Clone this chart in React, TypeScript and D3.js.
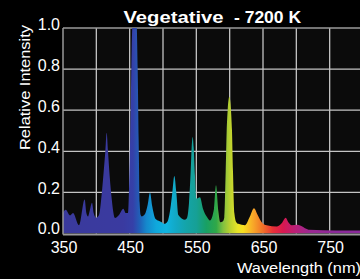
import * as d3 from "d3";
import { useEffect, useRef } from "react";

// spectrum (nm, relative intensity)
const wavelengths = [
  350, 354, 360.5, 365, 374, 382.5, 385, 387.5, 390, 393.5, 396, 399.5, 404, 408,
  411, 413.5, 415.5, 417.5, 420, 423, 428, 434, 440.5, 444, 447.5, 450, 451.5, 453,
  455, 460, 462, 463.5, 465, 466.5, 468, 473, 477, 480.5, 484, 489, 498, 502, 507,
  511, 514, 517, 520, 523, 533, 536, 539, 541.5, 543, 544.5, 546, 548, 550,
  555.5, 560, 566, 570.5, 576.5, 579.5, 583, 586, 590, 592, 594, 595.5, 597,
  599.5, 602, 603.5, 605, 607, 610, 613, 623, 630, 636.5, 642, 648, 655.5, 670.5,
  678, 684, 688, 693, 702, 713, 720, 760, 800,
];
const intensities = [
  0.1, 0.115, 0.088, 0.1, 0.04, 0.165, 0.1, 0.083, 0.11, 0.15, 0.1, 0.077, 0.09, 0.19,
  0.3, 0.4, 0.49, 0.4, 0.28, 0.17, 0.075, 0.09, 0.12, 0.1, 0.1, 0.35, 0.6, 0.9,
  1.05, 1.05, 0.8, 0.45, 0.15, 0.09, 0.083, 0.095, 0.14, 0.2, 0.13, 0.07, 0.055, 0.047, 0.06,
  0.12, 0.2, 0.28, 0.2, 0.09, 0.067, 0.075, 0.15, 0.3, 0.42, 0.47, 0.42, 0.28, 0.17,
  0.177, 0.12, 0.08, 0.063, 0.12, 0.235, 0.11, 0.055, 0.06, 0.08, 0.3, 0.5, 0.6,
  0.665, 0.6, 0.5, 0.3, 0.1, 0.055, 0.047, 0.04, 0.08, 0.123, 0.09, 0.055, 0.04, 0.034,
  0.05, 0.077, 0.055, 0.04, 0.042, 0.026, 0.018, 0.015, 0.015,
];

const xTicks = [350, 450, 550, 650, 750];
const xGrid = [400, 450, 500, 550, 600, 650, 700, 750, 800];
const yTicks = [0, 0.2, 0.4, 0.6, 0.8, 1.0];

// colour of the fill by wavelength
const colorStops: [number, string][] = [
  [350, "#3a3a9c"], [440, "#3a3aa0"], [455, "#3540a8"], [465, "#2060b8"],
  [475, "#1588cc"], [490, "#0fa8dc"], [505, "#10b4e0"], [520, "#12a8c4"],
  [535, "#14a4a8"], [550, "#16a096"], [565, "#18a064"], [580, "#30a848"],
  [590, "#80c040"], [600, "#b8d030"], [612, "#e8e428"], [620, "#f8e020"],
  [635, "#f8a828"], [650, "#f07028"], [665, "#e83038"], [680, "#d81850"],
  [700, "#b8207a"], [720, "#9a2890"], [760, "#8a2a9a"], [800, "#8a2a9a"],
];

const App = () => {
  const ref = useRef<SVGSVGElement>(null);

  useEffect(() => {
    const svg = d3.select(ref.current);
    svg.selectAll("*").remove();
    const width = 360;
    const height = 279;
    const left = 63;
    const top = 28;
    const bottom = 233.5;

    svg.attr("width", width).attr("height", height);

    const x = d3.scaleLinear().domain([350, 800]).range([left, 363]);
    const y = d3.scaleLinear().domain([0, 1]).range([bottom, top]);

    svg.append("rect").attr("width", width).attr("height", height).attr("fill", "#000");
    svg
      .append("rect")
      .attr("x", left)
      .attr("y", top)
      .attr("width", 363 - left)
      .attr("height", bottom - top)
      .attr("fill", "#0b0b0b");

    const defs = svg.append("defs");
    const grad = defs
      .append("linearGradient")
      .attr("id", "spec")
      .attr("gradientUnits", "userSpaceOnUse")
      .attr("x1", x(350))
      .attr("x2", x(800))
      .attr("y1", 0)
      .attr("y2", 0);
    grad
      .selectAll("stop")
      .data(colorStops)
      .enter()
      .append("stop")
      .attr("offset", (d) => (d[0] - 350) / 450)
      .attr("stop-color", (d) => d[1]);

    defs
      .append("clipPath")
      .attr("id", "plotClip")
      .append("rect")
      .attr("x", left)
      .attr("y", top)
      .attr("width", 363 - left)
      .attr("height", bottom - top);

    // grid
    svg
      .append("g")
      .selectAll("line")
      .data(xGrid)
      .enter()
      .append("line")
      .attr("x1", (d) => x(d))
      .attr("x2", (d) => x(d))
      .attr("y1", top)
      .attr("y2", bottom)
      .attr("stroke", "#c4c4c4")
      .attr("stroke-width", 1.3);
    svg
      .append("g")
      .selectAll("line")
      .data(yTicks.filter((t) => t > 0))
      .enter()
      .append("line")
      .attr("x1", left)
      .attr("x2", width)
      .attr("y1", (d) => y(d))
      .attr("y2", (d) => y(d))
      .attr("stroke", (d) => (d === 1 ? "#9a9a9a" : "#c4c4c4"))
      .attr("stroke-width", 1.3);

    // spectrum
    const pts = wavelengths.map((w, i) => [w, intensities[i]] as [number, number]);
    const area = d3
      .area<[number, number]>()
      .x((d) => x(d[0]))
      .y0(bottom)
      .y1((d) => y(d[1]))
      .curve(d3.curveMonotoneX);
    svg
      .append("path")
      .datum(pts)
      .attr("clip-path", "url(#plotClip)")
      .attr("d", area)
      .attr("fill", "url(#spec)");

    // axes lines
    svg
      .append("line")
      .attr("x1", left)
      .attr("x2", left)
      .attr("y1", top)
      .attr("y2", bottom + 1)
      .attr("stroke", "#9a9a9a")
      .attr("stroke-width", 1.5);
    svg
      .append("line")
      .attr("x1", left)
      .attr("x2", width)
      .attr("y1", bottom + 1)
      .attr("y2", bottom + 1)
      .attr("stroke", "#9a9a9a")
      .attr("stroke-width", 2);

    const font = "Arial, 'Liberation Sans', sans-serif";

    // tick labels
    svg
      .append("g")
      .selectAll("text")
      .data(yTicks)
      .enter()
      .append("text")
      .attr("x", 60)
      .attr("y", (d) => y(d) + (d === 0 ? 0 : 2))
      .attr("text-anchor", "end")
      .attr("fill", "#fff")
      .attr("font-family", font)
      .attr("font-size", 16)
      .text((d) => d.toFixed(1));
    svg
      .append("g")
      .selectAll("text")
      .data(xTicks)
      .enter()
      .append("text")
      .attr("x", (d) => x(d) + 1)
      .attr("y", 253)
      .attr("text-anchor", "middle")
      .attr("fill", "#fff")
      .attr("font-family", font)
      .attr("font-size", 16)
      .text((d) => d);

    // titles
    svg
      .append("text")
      .attr("x", 123.5)
      .attr("y", 22.5)
      .attr("fill", "#fff")
      .attr("font-family", font)
      .attr("font-weight", "bold")
      .attr("font-size", 16)
      .attr("textLength", 100)
      .attr("lengthAdjust", "spacingAndGlyphs")
      .text("Vegetative");
    svg
      .append("text")
      .attr("x", 234)
      .attr("y", 22.5)
      .attr("fill", "#fff")
      .attr("font-family", font)
      .attr("font-weight", "bold")
      .attr("font-size", 16)
      .attr("textLength", 67)
      .attr("lengthAdjust", "spacingAndGlyphs")
      .text("- 7200 K");
    svg
      .append("text")
      .attr("x", 237)
      .attr("y", 272.5)
      .attr("fill", "#fff")
      .attr("font-family", font)
      .attr("font-size", 14)
      .attr("textLength", 124)
      .attr("lengthAdjust", "spacingAndGlyphs")
      .text("Wavelength (nm)");
    svg
      .append("text")
      .attr("transform", "translate(30,150) rotate(-90)")
      .attr("fill", "#fff")
      .attr("font-family", font)
      .attr("font-size", 14)
      .attr("textLength", 125)
      .attr("lengthAdjust", "spacingAndGlyphs")
      .text("Relative Intensity");
  }, []);

  return (
    <svg ref={ref} style={{ position: "absolute", left: 0, top: 0, display: "block" }}></svg>
  );
};

export default App;
